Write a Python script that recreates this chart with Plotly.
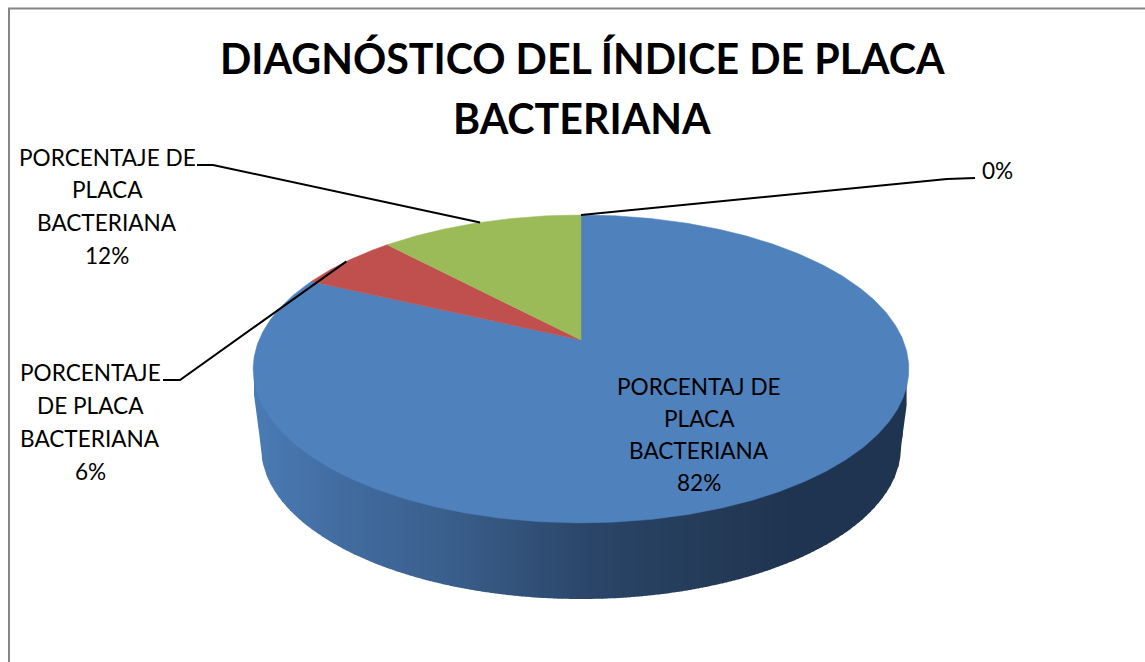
import numpy as np
import plotly.graph_objects as go

# ---- data ----
categories = ["PORCENTAJ DE PLACA BACTERIANA", "PORCENTAJE DE PLACA BACTERIANA",
              "PORCENTAJE DE PLACA BACTERIANA", ""]
values = [82, 6, 12, 0]
slice_colors = ["#4f81bd", "#c0504d", "#9bbb59", "#8064a2"]
title_lines = ["DIAGNÓSTICO DEL ÍNDICE DE PLACA", "BACTERIANA"]
label_lines = [
    ["PORCENTAJ DE", "PLACA", "BACTERIANA", "82%"],
    ["PORCENTAJE", "DE PLACA", "BACTERIANA", "6%"],
    ["PORCENTAJE DE", "PLACA", "BACTERIANA", "12%"],
    ["0%"],
]

# ---- layout geometry (pixels) ----
W, H = 1145, 662
APEX_X, APEX_Y = 581, 340
K, A, B = 0.188, 148.5, 322.0
ELL_CY = 369
BOT_CY, BOT_RX, BOT_RY = 447, 320, 152
label_pos = [(699, 386, 32), (90, 372, 33), (107, 157, 32.7), (997, 170, 33)]
leader_elbows = [None, [(163, 380), (180, 380)], [(197, 165), (213, 165)], [(975, 178), (947, 179)]]
FONT = "Lato, Carlito, Calibri, sans-serif"


def project(theta):
    x, y = np.sin(theta), np.cos(theta)
    d = 1 + K * y
    return APEX_X + B * x / d, APEX_Y - A * y / d


fig = go.Figure()

# side wall, drawn as a shaded band of thin strips
stops_x = [255, 330, 450, 590, 700, 800, 907]
stops_r = [0x4a, 0x43, 0x3a, 0x2b, 0x25, 0x1f, 0x1f]
stops_g = [0x7c, 0x6e, 0x5f, 0x46, 0x3c, 0x34, 0x34]
stops_b = [0xb5, 0xa3, 0x8c, 0x69, 0x5a, 0x50, 0x50]


def wall_bottom(px):
    dx = abs(px - APEX_X)
    if dx <= BOT_RX:
        return BOT_CY + BOT_RY * np.sqrt(1 - (dx / BOT_RX) ** 2)
    return BOT_CY - (dx - BOT_RX) / 7 * 52


step = 4
for left in range(254, 906, step):
    right = left + step + 0.6
    c = (left + step / 2)
    col = "rgb(%d,%d,%d)" % (np.interp(c, stops_x, stops_r), np.interp(c, stops_x, stops_g), np.interp(c, stops_x, stops_b))
    xs = np.linspace(left, right, 5)
    ys = [wall_bottom(v) for v in xs]
    fig.add_trace(go.Scatter(x=[left, *xs, right, left], y=[ELL_CY, *ys, ELL_CY, ELL_CY], mode="lines",
                             fill="toself", fillcolor=col, line=dict(width=0), hoverinfo="skip", showlegend=False))

# top face slices, clockwise from 12 o'clock
total = sum(values)
start = 0.0
mids = []
for v, col in zip(values, slice_colors):
    sweep = v / total * 2 * np.pi
    th = np.linspace(start, start + sweep, max(2, int(v * 6)))
    px, py = project(th)
    mids.append(project(start + sweep / 2))
    if v > 0:
        fig.add_trace(go.Scatter(x=[APEX_X, *px, APEX_X], y=[APEX_Y, *py, APEX_Y], mode="lines", fill="toself",
                                 fillcolor=col, line=dict(width=0.5, color=col), hoverinfo="skip", showlegend=False))
    start += sweep

# leader lines
for mid, elbow in zip(mids, leader_elbows):
    if elbow:
        fig.add_trace(go.Scatter(x=[elbow[0][0], elbow[1][0], float(mid[0])], y=[elbow[0][1], elbow[1][1], float(mid[1])],
                                 mode="lines", line=dict(color="#000000", width=2), hoverinfo="skip", showlegend=False))

ann = []
for i, line in enumerate(title_lines):
    ann.append(dict(x=582, y=58 + i * 60, text=f"<b>{line}</b>", showarrow=False, xanchor="center", yanchor="middle",
                    font=dict(family=FONT, size=41.2, color="#000000")))
for lines, (cx, cy, dy) in zip(label_lines, label_pos):
    for i, line in enumerate(lines):
        ann.append(dict(x=cx, y=cy + i * dy, text=line, showarrow=False, xanchor="center", yanchor="middle",
                        font=dict(family=FONT, size=22.6, color="#000000")))

frame = [dict(type="line", xref="x", yref="y", x0=9, x1=9, y0=8, y1=H, line=dict(color="#868686", width=2)),
         dict(type="line", xref="x", yref="y", x0=8, x1=W, y0=8.5, y1=8.5, line=dict(color="#868686", width=2))]

fig.update_layout(width=W, height=H, margin=dict(l=0, r=0, t=0, b=0), paper_bgcolor="white", plot_bgcolor="white",
                  showlegend=False, annotations=ann, shapes=frame,
                  xaxis=dict(range=[0, W], visible=False, fixedrange=True),
                  yaxis=dict(range=[H, 0], visible=False, fixedrange=True))
fig.write_html("out.html", config=dict(displayModeBar=False),
               post_script="document.body.style.margin='0';document.body.style.overflow='hidden';")
